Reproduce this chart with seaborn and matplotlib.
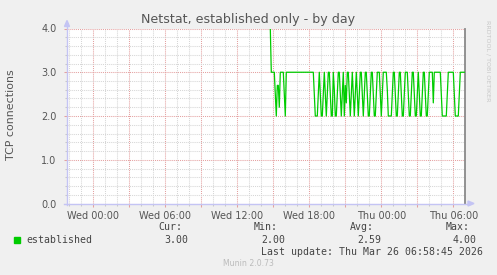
import matplotlib
matplotlib.use("Agg")
import matplotlib.pyplot as plt
from matplotlib.lines import Line2D
from matplotlib.patches import Polygon
import seaborn as sns
import numpy as np
import pandas as pd

# ---------------- data ----------------
title = "Netstat, established only - by day"
ylabel = "TCP connections"
series_name = "established"
x_tick_hours = [0, 6, 12, 18, 24, 30]          # hours since Wed 00:00
x_tick_labels = ["Wed 00:00", "Wed 06:00", "Wed 12:00",
                 "Wed 18:00", "Thu 00:00", "Thu 06:00"]
y_ticks = [0.0, 1.0, 2.0, 3.0, 4.0]
y_tick_labels = ["0.0", "1.0", "2.0", "3.0", "4.0"]
start_hour = 14.75        # first sample: Wed 14:45
step_hours = 5 / 60       # 5-minute samples
values = [
    4, 3, 3, 3, 3, 2.5, 2, 2.7, 2.7, 2.2, 3, 3, 3, 3, 2.5, 2,
    3, 3, 3, 3, 3, 3, 3, 3, 3, 3, 3, 3, 3, 3,
    3, 3, 3, 3, 3, 3, 3, 3, 3, 3, 3, 3, 3, 3,
    2.5, 2, 2, 2, 2.5, 3, 2.5, 2, 2, 2.5, 3, 2.5, 2, 2.5, 3, 3, 2.5, 2, 2, 3,
    2.6, 2, 2, 2.5, 3, 3, 2.5, 2, 2.5, 3, 2, 2.7, 2.3, 3, 3,
    2.5, 2, 2.5, 3, 2.5, 2, 2.5, 3, 2.5, 2, 2.5, 3, 3, 2.5, 2, 2.5, 3, 3, 2.5, 2, 2,
    2.5, 3, 3, 2.5, 2, 2, 2.5, 3, 3, 3, 2.5, 2, 2.5, 3, 3, 3, 3, 2.6, 2, 2, 2, 2,
    2.5, 3, 3, 2.5, 2, 2, 2.5, 3, 3, 2.5, 2, 2, 2.5, 3, 3, 3, 2.5, 2, 2, 2.5, 3, 3,
    2.5, 2, 2, 2.5, 3, 2.5, 2, 2, 2.5, 3, 3, 2.5, 2, 2, 2.5, 3, 3, 3, 3, 2.3,
    3, 3, 3, 3, 3, 3, 3, 2.5, 2, 2, 2, 2, 2, 2.5, 3, 3, 3, 3, 3, 3,
    2.5, 2, 2, 2, 2, 2.5, 3, 3, 3, 3, 3,
]
stat_labels = ["Cur:", "Min:", "Avg:", "Max:"]
stat_values = ["3.00", "2.00", "2.59", "4.00"]
last_update = "Last update: Thu Mar 26 06:58:45 2026"
footer = "Munin 2.0.73"
watermark = "RRDTOOL / TOBI OETIKER"

# ---------------- figure ----------------
W, H = 497, 275
fig = plt.figure(figsize=(W / 100, H / 100), dpi=100, facecolor="#F0F0F0")
plt.rcParams["font.family"] = ["DejaVu Sans"]

def fx(px):
    return px / W

def fy(py):
    return 1 - py / H

ax_l, ax_r, ax_t, ax_b = 67, 465, 28.5, 203.5
ax = fig.add_axes([fx(ax_l), fy(ax_b), (ax_r - ax_l) / W, (ax_b - ax_t) / H])
ax.set_facecolor("white")

hours = start_hour + step_hours * np.arange(len(values))
df = pd.DataFrame({"hour": hours, "value": values})
sns.lineplot(data=df, x="hour", y="value", color="#00CC00", linewidth=0.9,
             ax=ax, legend=False, zorder=5)

x_left = -(93.3 - ax_l) / 12
x_right = (ax_r - 93.3) / 12
ax.set_xlim(x_left, x_right)
ax.set_ylim(0, 4)

ax.set_xticks(np.arange(0, 31, 3))
ax.set_xticklabels([x_tick_labels[x_tick_hours.index(h)] if h in x_tick_hours else ""
                    for h in range(0, 31, 3)])
ax.set_xticks(np.arange(-2, 31, 1), minor=True)
ax.set_yticks(y_ticks)
ax.set_yticklabels(y_tick_labels)
ax.set_yticks(np.arange(0, 4.01, 0.2), minor=True)

ax.grid(which="minor", color="#D6D6D6", linestyle=(0, (1, 1)), linewidth=0.75, zorder=1)
ax.grid(which="major", color="#E4A0A0", linestyle=(0, (1, 1)), linewidth=0.75, zorder=2)
ax.set_axisbelow(True)

ax.tick_params(which="major", length=2.5, width=0.75, color="#E4A0A0",
               labelsize=7, labelcolor="#555555", pad=3)
ax.tick_params(which="minor", length=1.5, width=0.75, color="#C8C8C8")
ax.tick_params(axis="y", which="major", pad=5)

ax.set_xlabel("")
ax.set_ylabel("")
for s in ["top", "left", "bottom"]:
    ax.spines[s].set_visible(False)
ax.spines["right"].set_color("#8A8A8A")
ax.spines["right"].set_linewidth(1.3)

# axis lines with arrows (munin / rrdtool style)
axis_col = "#C4C4F4"
fig.add_artist(Line2D([fx(ax_l), fx(ax_l)], [fy(ax_b + 1), fy(23)],
                      transform=fig.transFigure, color=axis_col, linewidth=1.0))
fig.add_artist(Line2D([fx(ax_l - 3), fx(470)], [fy(ax_b), fy(ax_b)],
                      transform=fig.transFigure, color=axis_col, linewidth=1.0))
fig.add_artist(Polygon([[fx(64.5), fy(26.5)], [fx(69.5), fy(26.5)], [fx(67), fy(20.5)]],
                       closed=True, transform=fig.transFigure, color=axis_col))
fig.add_artist(Polygon([[fx(468), fy(201)], [fx(468), fy(206)], [fx(474), fy(203.5)]],
                       closed=True, transform=fig.transFigure, color=axis_col))

# titles
fig.text(fx(248.5), fy(19), title, ha="center", va="center",
         fontsize=9.1, color="#555555")
fig.text(fx(11), fy(115), ylabel, ha="center", va="center", rotation=90,
         fontsize=7.9, color="#555555")
fig.text(fx(488), fy(20), watermark, ha="center", va="top", rotation=-90,
         fontsize=4.6, color="#C8C8C8")

# legend
mono = "DejaVu Sans Mono"
txt_col = "#444444"
fig.add_artist(Polygon([[fx(14), fy(236.5)], [fx(20), fy(236.5)],
                        [fx(20), fy(242.5)], [fx(14), fy(242.5)]],
                       closed=True, transform=fig.transFigure, color="#00CC00"))
fig.text(fx(26), fy(240), series_name, ha="left", va="center",
         family=mono, fontsize=7.1, color=txt_col)
label_right = [182, 278, 374, 470]
value_right = [188, 285, 381, 477]
for lab, val, lr, vr in zip(stat_labels, stat_values, label_right, value_right):
    fig.text(fx(lr), fy(227.5), lab, ha="right", va="center",
             family=mono, fontsize=7.1, color=txt_col)
    fig.text(fx(vr), fy(240), val, ha="right", va="center",
             family=mono, fontsize=7.1, color=txt_col)
fig.text(fx(483), fy(252), last_update, ha="right", va="center",
         family=mono, fontsize=7.1, color=txt_col)
fig.text(fx(248), fy(264), footer, ha="center", va="center",
         fontsize=5.6, color="#BBBBBB")

fig.savefig("out.png", dpi=100, facecolor=fig.get_facecolor())
